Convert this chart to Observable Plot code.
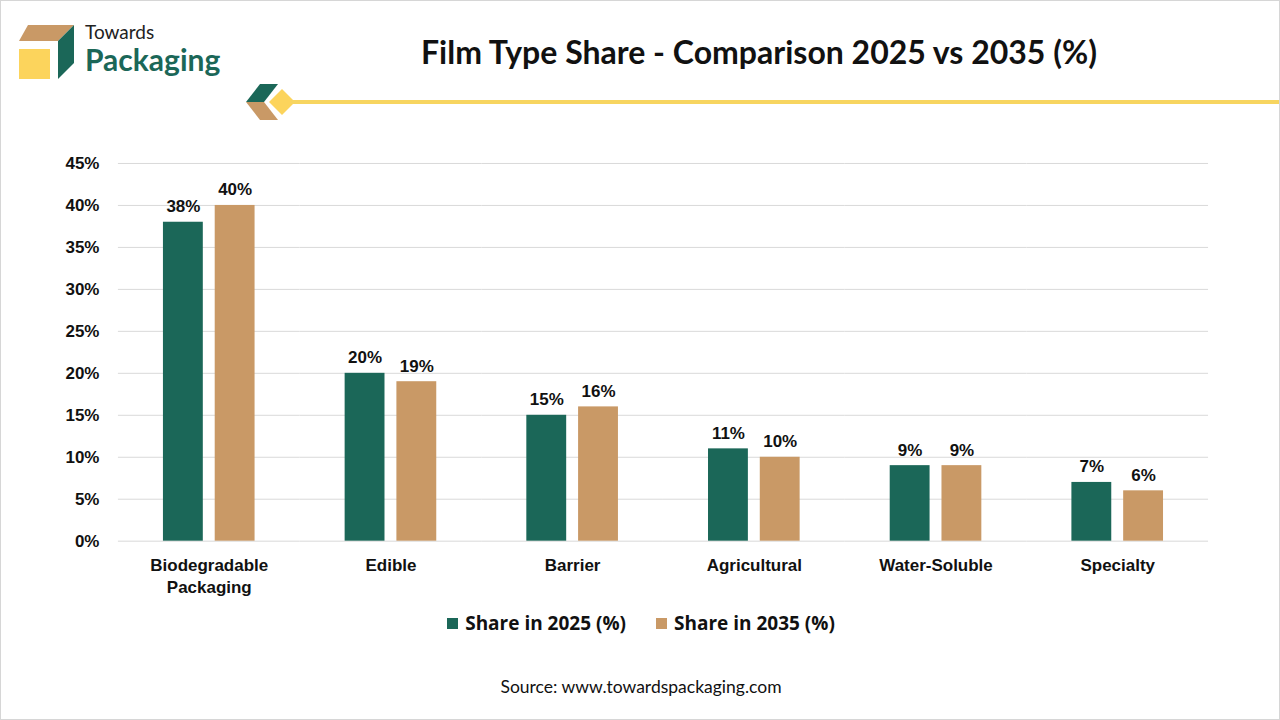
<!DOCTYPE html>
<html>
<head>
<meta charset="utf-8">
<script src="https://cdn.jsdelivr.net/npm/d3@7"></script>
<script src="https://cdn.jsdelivr.net/npm/@observablehq/plot@0.6"></script>
<style>
  html, body { margin: 0; padding: 0; background: #fff; }
  #page { position: relative; width: 1280px; height: 720px; box-sizing: border-box; border: 1px solid #d6d6d6; overflow: hidden; font-family: Lato, "Liberation Sans", sans-serif; }
  #title { position: absolute; left: 118px; width: 1280px; top: 31px; text-align: center; font: 700 32px Lato, sans-serif; color: #111; }
  #chart { position: absolute; left: -1px; top: 140px; }
  #legend { position: absolute; top: 609px; left: 0; width: 1280px; display: flex; justify-content: center; gap: 30px; font: 700 19px "Open Sans", "Liberation Sans", sans-serif; color: #111; }
  #legend .item { display: flex; align-items: center; gap: 7px; }
  #legend .sw { width: 11px; height: 11px; display: inline-block; }
  #source { position: absolute; top: 675px; left: 0; width: 1280px; text-align: center; font: 400 17.5px Lato, sans-serif; color: #111; }
</style>
</head>
<body>
<div id="page">
  <svg width="1280" height="130" style="position:absolute;left:0;top:0">
    <polygon points="18,40 27,24 73,24 57,40" fill="#c99966"/>
    <polygon points="57,40 73,24 73,62 57,78" fill="#1b6758"/>
    <rect x="18" y="48" width="31" height="30" fill="#fcd45c"/>
    <text x="84" y="38" font-family="Lato, sans-serif" font-size="19" fill="#222">Towards</text>
    <text x="84" y="70" font-family="Lato, sans-serif" font-weight="700" font-size="30" fill="#1b6758">Packaging</text>
    <polygon points="259,83 277,83 263,101 245,101" fill="#1b6758"/>
    <polygon points="245,101 263,101 277,119 259,119" fill="#c99966"/>
    <polygon points="281,88 294,101 281,114 268,101" fill="#fcd45c"/>
    <rect x="290" y="99" width="990" height="4" fill="#f7d560"/>
  </svg>
  <div id="title">Film Type Share - Comparison 2025 vs 2035 (%)</div>
  <div id="chart"></div>
  <div id="legend"></div>
  <div id="source">Source: www.towardspackaging.com</div>
</div>
<script>
const categories = ["Biodegradable Packaging", "Edible", "Barrier", "Agricultural", "Water-Soluble", "Specialty"];
const seriesNames = ["Share in 2025 (%)", "Share in 2035 (%)"];
const share2025 = [38, 20, 15, 11, 9, 7];
const share2035 = [40, 19, 16, 10, 9, 6];
const colors = ["#1b6758", "#c99966"];
const yTicks = [0, 5, 10, 15, 20, 25, 30, 35, 40, 45];

const data = [];
categories.forEach((c, i) => {
  data.push({category: c, series: seriesNames[0], value: share2025[i]});
  data.push({category: c, series: seriesNames[1], value: share2035[i]});
});

const plot = Plot.plot({
  width: 1280,
  height: 460,
  marginLeft: 118,
  marginRight: 71,
  marginTop: 22,
  marginBottom: 60,
  style: {fontFamily: "'Liberation Sans', Arial, sans-serif", background: "transparent"},
  fx: {domain: categories, padding: 0, round: false, label: null, axis: null},
  x: {domain: seriesNames, paddingInner: 0.23, paddingOuter: 0.87, round: false, axis: null},
  y: {domain: [0, 45], label: null, axis: null},
  color: {domain: seriesNames, range: colors},
  marks: [
    Plot.gridY(yTicks, {stroke: "#d9d9d9", strokeOpacity: 1, strokeWidth: 1}),
    Plot.axisY(yTicks, {tickSize: 0, tickPadding: 19, tickFormat: d => d + "%", fontSize: 17, fontWeight: "bold", fill: "#111"}),
    Plot.axisFx({anchor: "bottom", tickSize: 0, tickPadding: 14, fontSize: 17, fontWeight: "bold", fill: "#111", lineWidth: 9, lineHeight: 1.3, label: null}),
    Plot.barY(data, {fx: "category", x: "series", y: "value", fill: "series"}),
    Plot.text(data, {fx: "category", x: "series", y: "value", text: d => d.value + "%", dy: -10, lineAnchor: "bottom", fontSize: 17, fontWeight: "bold", fill: "#111"})
  ]
});
document.getElementById("chart").appendChild(plot);

const legend = document.getElementById("legend");
seriesNames.forEach((s, i) => {
  const item = document.createElement("div");
  item.className = "item";
  const sw = document.createElement("span");
  sw.className = "sw";
  sw.style.background = colors[i];
  const t = document.createElement("span");
  t.textContent = s;
  item.appendChild(sw);
  item.appendChild(t);
  legend.appendChild(item);
});
</script>
</body>
</html>
